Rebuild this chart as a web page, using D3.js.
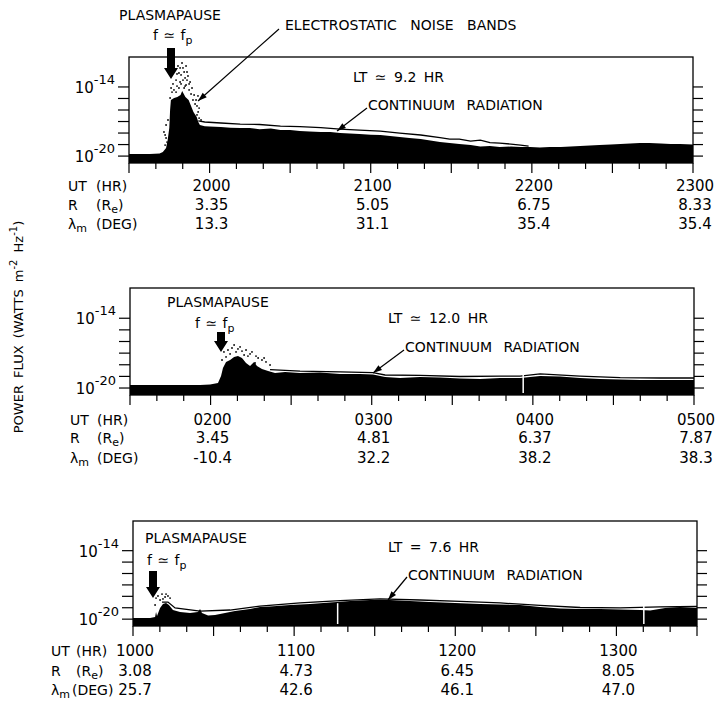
<!DOCTYPE html>
<html>
<head>
<meta charset="utf-8">
<title>Power flux</title>
<script src="https://cdn.jsdelivr.net/npm/d3@7"></script>
<style>
body { margin: 0; background: #fff; }
text { font-family: "DejaVu Sans", sans-serif; fill: #000; }
</style>
</head>
<body>
<script>
// ---- data (UT in decimal hours, flux as log10 W m^-2 Hz^-1) ----
// panel 1, LT ~ 9.2 hr
var p1UT = [19.5,19.63,19.69,19.71,19.73,19.74,19.75,19.755,19.76,19.78,19.8,19.82,19.83,19.84,19.85,19.87,19.88,19.89,19.9,19.92,19.93,19.94,19.97,20.0,20.07,20.13,20.19,20.25,20.31,20.38,20.44,20.5,20.56,20.62,20.69,20.75,20.81,20.87,20.93,21.0,21.06,21.12,21.18,21.24,21.31,21.37,21.43,21.49,21.55,21.62,21.68,21.74,21.8,21.87,21.93,21.99,22.05,22.11,22.18,22.24,22.3,22.36,22.42,22.49,22.55,22.61,22.67,22.73,22.8,22.86,22.92,23.0];
var p1Flux = [-19.82,-19.82,-19.78,-19.64,-19.3,-18.6,-17.56,-16.0,-15.13,-14.96,-14.87,-14.7,-14.35,-14.61,-14.87,-15.13,-15.48,-15.83,-16.18,-16.61,-17.05,-17.31,-17.4,-17.44,-17.48,-17.53,-17.57,-17.57,-17.66,-17.61,-17.74,-17.74,-17.83,-17.87,-17.92,-17.92,-18.0,-18.05,-18.09,-18.14,-18.17,-18.26,-18.35,-18.44,-18.52,-18.65,-18.78,-18.87,-18.96,-19.04,-19.17,-19.13,-19.22,-19.17,-19.22,-19.22,-19.26,-19.22,-19.22,-19.17,-19.13,-19.09,-19.04,-19.0,-18.96,-18.91,-18.87,-18.87,-18.91,-18.96,-18.96,-19.0];
var p1ContUT = [19.93,19.97,20.07,20.19,20.31,20.44,20.56,20.69,20.81,20.93,21.06,21.18,21.31,21.43,21.49,21.55,21.62,21.68,21.74,21.8,21.87,21.93,21.98];
var p1Cont = [-16.95,-17.04,-17.13,-17.22,-17.26,-17.4,-17.44,-17.53,-17.66,-17.74,-17.83,-18.0,-18.17,-18.39,-18.52,-18.52,-18.7,-18.61,-18.83,-18.87,-18.96,-19.04,-19.13];
var p1NoiseUT = [19.786,19.804,19.823,19.835,19.848,19.86,19.817,19.879,19.891,19.904,19.916,19.922,19.929,19.761,19.773,19.792,19.854,19.873,19.73,19.724,19.736,19.935,19.829,19.81,19.866,19.842,
  19.767,19.779,19.798,19.81,19.823,19.835,19.848,19.86,19.873,19.885,19.897,19.91,19.922,19.935,19.947,19.928,19.798,19.842,19.854,19.817,19.792,19.717,19.73,19.724,19.742,19.755];
var p1Noise = [-12.53,-12.18,-12.96,-12.35,-13.22,-12.7,-13.57,-13.57,-14.09,-14.7,-15.13,-15.65,-16.17,-14.09,-13.74,-13.4,-13.83,-14.26,-17.3,-18.17,-18.78,-16.7,-11.92,-12.79,-13.05,-14.09,
  -14.44,-14.26,-13.92,-14.09,-13.74,-13.4,-13.92,-13.4,-13.74,-14.61,-15.13,-15.48,-16.43,-15.83,-16.87,-14.78,-12.87,-12.7,-12.18,-12.35,-14.44,-17.91,-18.43,-19.04,-16.87,-14.96];
var p1Gaps = [];
var p1Hours = ["2000","2100","2200","2300"];
var p1R = ["3.35","5.05","6.75","8.33"];
var p1Lat = ["13.3","31.1","35.4","35.4"];

// panel 2, LT ~ 12.0 hr
var p2UT = [1.5,1.935,1.997,2.046,2.065,2.077,2.096,2.121,2.146,2.17,2.195,2.22,2.245,2.27,2.288,2.319,2.357,2.4,2.462,2.555,2.679,2.804,2.928,3.008,3.083,3.176,3.3,3.424,3.548,3.673,3.797,3.921,4.045,4.169,4.293,4.417,4.542,4.666,4.79,4.914,5.0];
var p2Flux = [-19.74,-19.74,-19.7,-19.57,-18.97,-18.28,-17.76,-17.59,-17.33,-17.25,-17.42,-17.85,-18.11,-17.76,-18.11,-18.36,-18.54,-18.71,-18.62,-18.71,-18.67,-18.79,-18.79,-18.84,-19.05,-19.14,-19.05,-19.1,-19.18,-19.23,-19.14,-19.14,-18.97,-19.01,-19.14,-19.23,-19.27,-19.31,-19.31,-19.31,-19.31];
var p2ContUT = [2.369,2.555,2.804,3.008,3.083,3.3,3.548,3.797,3.921,4.045,4.293,4.542,4.79,5.0];
var p2Cont = [-18.41,-18.54,-18.62,-18.67,-18.88,-18.92,-19.01,-18.97,-18.97,-18.79,-18.97,-19.1,-19.14,-19.14];
var p2NoiseUT = [2.108,2.133,2.158,2.183,2.208,2.232,2.096,2.257,2.295,2.319,2.146,2.369,2.276,
  2.083,2.121,2.17,2.195,2.22,2.245,2.282,2.332,2.344,2.071];
var p2Noise = [-16.73,-16.56,-16.9,-16.47,-17.16,-17.25,-17.33,-16.9,-17.42,-17.59,-16.3,-18.02,-17.85,
  -16.9,-17.07,-16.64,-16.82,-16.73,-17.07,-17.25,-17.42,-17.76,-17.59];
var p2Gaps = [3.94];
var p2Hours = ["0200","0300","0400","0500"];
var p2R = ["3.45","4.81","6.37","7.87"];
var p2Lat = ["-10.4","32.2","38.2","38.3"];

// panel 3, LT = 7.6 hr
var p3UT = [10.0,10.106,10.137,10.143,10.149,10.168,10.186,10.205,10.223,10.248,10.292,10.354,10.403,10.416,10.428,10.466,10.509,10.571,10.633,10.726,10.788,10.85,10.975,11.099,11.223,11.347,11.471,11.595,11.719,11.844,11.999,12.154,12.278,12.402,12.526,12.651,12.775,12.899,13.023,13.147,13.209,13.302,13.395,13.5];
var p3Flux = [-19.9,-19.9,-19.81,-19.37,-19.72,-19.02,-18.67,-18.58,-18.76,-19.2,-19.37,-19.46,-19.37,-19.11,-19.46,-19.68,-19.64,-19.46,-19.29,-19.11,-18.93,-18.89,-18.76,-18.67,-18.54,-18.41,-18.32,-18.32,-18.41,-18.5,-18.58,-18.67,-18.72,-18.76,-18.93,-19.07,-19.11,-19.11,-19.15,-19.2,-19.24,-19.02,-18.93,-19.02];
var p3ContUT = [10.18,10.217,10.261,10.416,10.602,10.788,11.037,11.285,11.533,11.781,12.03,12.278,12.526,12.775,13.023,13.271,13.5];
var p3Cont = [-18.5,-18.5,-19.02,-19.29,-19.2,-18.85,-18.58,-18.37,-18.23,-18.32,-18.45,-18.58,-18.8,-18.98,-19.02,-18.93,-18.89];
var p3NoiseUT = [10.155,10.18,10.199,10.217,10.168,10.137,10.143,10.186,10.205,10.23];
var p3Noise = [-17.97,-17.8,-18.06,-17.97,-18.32,-18.76,-18.15,-18.23,-17.8,-18.15];
var p3Gaps = [11.27,13.17];
var p3Hours = ["1000","1100","1200","1300"];
var p3R = ["3.08","4.73","6.45","8.05"];
var p3Lat = ["25.7","42.6","46.1","47.0"];

var decades = [-20,-19,-18,-17,-16,-15,-14];

// ---- layout ----
var panels = [
  {top:57, bottom:163, left:129, right:693, ut:[19.5,23], major:[20,21,22,23],
   flux:[p1UT,p1Flux], cont:[p1ContUT,p1Cont], noise:[p1NoiseUT,p1Noise], gaps:p1Gaps,
   hours:p1Hours, r:p1R, lat:p1Lat, rows:[28,47,66], lx:68, ux:96, rx:96, dx:96,
   lt:"LT \u2243 9.2 HR", ltPos:[353,82], cPos:[368,110], cArrow:[367,108,337,131],
   pp:[170,20,"middle"], fp:[153,40], arrow:[171,48,79]},
  {top:288, bottom:395, left:130, right:694, ut:[1.5,5], major:[2,3,4,5],
   flux:[p2UT,p2Flux], cont:[p2ContUT,p2Cont], noise:[p2NoiseUT,p2Noise], gaps:p2Gaps,
   hours:p2Hours, r:p2R, lat:p2Lat, rows:[30,48,68], lx:70, ux:97, rx:97, dx:97,
   lt:"LT \u2243 12.0 HR", ltPos:[388,323], cPos:[405,352], cArrow:[404,350,373,373],
   pp:[167,307,"start"], fp:[195,328], arrow:[221,332,352]},
  {top:521, bottom:626, left:133, right:697, ut:[10,13.5], major:[10,11,12,13],
   flux:[p3UT,p3Flux], cont:[p3ContUT,p3Cont], noise:[p3NoiseUT,p3Noise], gaps:p3Gaps,
   hours:p3Hours, r:p3R, lat:p3Lat, rows:[30,50,69], lx:51, ux:76, rx:76, dx:72,
   lt:"LT = 7.6 HR", ltPos:[388,552], cPos:[408,580], cArrow:[407,577,388,600],
   pp:[145,543,"start"], fp:[147,565], arrow:[153,571,598]}
];

var svg = d3.select("body").append("svg")
    .attr("width", 718)
    .attr("height", 702);

function zip(a, b){
  return a.map(function(t, i){ return {t: t, v: b[i]}; });
}

// thin pointer with a small head at (x2,y2)
function pointer(x1, y1, x2, y2){
  svg.append("line")
    .attr("x1", x1).attr("y1", y1).attr("x2", x2).attr("y2", y2)
    .attr("stroke", "#000").attr("stroke-width", 1.2);
  var a = Math.atan2(y2 - y1, x2 - x1), L = 9, w = 3;
  var bx = x2 - L * Math.cos(a), by = y2 - L * Math.sin(a);
  var px = -Math.sin(a) * w, py = Math.cos(a) * w;
  svg.append("path")
    .attr("d", "M" + x2 + "," + y2 + "L" + (bx + px) + "," + (by + py) + "L" + (bx - px) + "," + (by - py) + "Z")
    .attr("fill", "#000");
}

// fat down arrow (f ~ fp marker)
function fatArrow(x, y1, y2){
  var hw = 4, hh = 7, hl = 11;
  svg.append("path")
    .attr("d", "M" + (x - hw) + "," + y1 + "H" + (x + hw) + "V" + (y2 - hl) + "H" + (x + hh) +
      "L" + x + "," + y2 + "L" + (x - hh) + "," + (y2 - hl) + "H" + (x - hw) + "Z")
    .attr("fill", "#000");
}

panels.forEach(function(p){
  var x = d3.scaleLinear().domain(p.ut).range([p.left, p.right]);
  var y = d3.scaleLog().domain([Math.pow(10, -20.6), Math.pow(10, -11.4)]).range([p.bottom, p.top]);
  var yv = function(v){ return y(Math.pow(10, v)); };

  // spectrum fill
  var area = d3.area()
    .x(function(d){ return x(d.t); })
    .y0(p.bottom)
    .y1(function(d){ return yv(d.v); });
  svg.append("path")
    .datum(zip(p.flux[0], p.flux[1]))
    .attr("d", area)
    .attr("fill", "#000");

  // continuum radiation upper edge
  var line = d3.line()
    .x(function(d){ return x(d.t); })
    .y(function(d){ return yv(d.v); });
  svg.append("path")
    .datum(zip(p.cont[0], p.cont[1]))
    .attr("d", line)
    .attr("fill", "none")
    .attr("stroke", "#000")
    .attr("stroke-width", 1.3);

  // scattered noise points
  svg.append("g").selectAll("circle")
    .data(zip(p.noise[0], p.noise[1]))
    .enter().append("circle")
    .attr("cx", function(d){ return x(d.t); })
    .attr("cy", function(d){ return yv(d.v); })
    .attr("r", 0.9)
    .attr("fill", "#000");

  // data gaps
  svg.append("g").selectAll("line")
    .data(p.gaps)
    .enter().append("line")
    .attr("x1", function(d){ return x(d); }).attr("x2", function(d){ return x(d); })
    .attr("y1", p.bottom - 2).attr("y2", yv(-18.6))
    .attr("stroke", "#fff").attr("stroke-width", 1.5);

  // frame
  svg.append("rect")
    .attr("x", p.left).attr("y", p.top)
    .attr("width", p.right - p.left).attr("height", p.bottom - p.top)
    .attr("fill", "none").attr("stroke", "#000").attr("stroke-width", 1.3);

  // y ticks both sides
  var yt = svg.append("g");
  decades.forEach(function(e){
    yt.append("line").attr("x1", p.left - 11).attr("x2", p.left)
      .attr("y1", yv(e)).attr("y2", yv(e)).attr("stroke", "#000").attr("stroke-width", 1.2);
    yt.append("line").attr("x1", p.right).attr("x2", p.right + 10)
      .attr("y1", yv(e)).attr("y2", yv(e)).attr("stroke", "#000").attr("stroke-width", 1.2);
  });
  [-14, -20].forEach(function(e){
    var t = svg.append("text")
      .attr("x", p.left - 14).attr("y", yv(e) + 6)
      .attr("text-anchor", "end")
      .style("font-size", "15px");
    t.append("tspan").text("10");
    t.append("tspan").attr("dy", -9).style("font-size", "13px").text(String(e));
  });

  // x ticks every 10 min, longer on the half hour
  var xt = d3.range(0, Math.round((p.ut[1] - p.ut[0]) * 6) + 1).map(function(i){ return p.ut[0] + i / 6; });
  svg.append("g").selectAll("line")
    .data(xt)
    .enter().append("line")
    .attr("x1", function(d){ return x(d); }).attr("x2", function(d){ return x(d); })
    .attr("y1", p.bottom)
    .attr("y2", function(d){ return Math.abs(d * 2 - Math.round(d * 2)) < 1e-6 ? p.bottom + 10 : p.bottom + 6; })
    .attr("stroke", "#000").attr("stroke-width", 1.2);

  // ephemeris rows
  var rowVals = [p.hours, p.r, p.lat];
  rowVals.forEach(function(vals, k){
    svg.append("g").selectAll("text")
      .data(vals)
      .enter().append("text")
      .attr("x", function(d, i){ return x(p.major[i]) + 2; })
      .attr("y", p.bottom + p.rows[k])
      .attr("text-anchor", "middle")
      .style("font-size", "15px")
      .text(function(d){ return d; });
  });
  var by = p.bottom, fs = "14px";
  svg.append("text").attr("x", p.lx).attr("y", by + p.rows[0]).style("font-size", fs).text("UT");
  svg.append("text").attr("x", p.ux).attr("y", by + p.rows[0]).style("font-size", fs).text("(HR)");
  svg.append("text").attr("x", p.lx).attr("y", by + p.rows[1]).style("font-size", fs).text("R");
  var re = svg.append("text").attr("x", p.rx).attr("y", by + p.rows[1]).style("font-size", fs);
  re.append("tspan").text("(R");
  re.append("tspan").attr("dy", 3).style("font-size", "11px").text("e");
  re.append("tspan").attr("dy", -3).text(")");
  var lm = svg.append("text").attr("x", p.lx).attr("y", by + p.rows[2]).style("font-size", fs);
  lm.append("tspan").text("\u03bb");
  lm.append("tspan").attr("dy", 3).style("font-size", "11px").text("m");
  svg.append("text").attr("x", p.dx).attr("y", by + p.rows[2]).style("font-size", fs).text("(DEG)");

  // annotations
  svg.append("text").attr("x", p.pp[0]).attr("y", p.pp[1]).attr("text-anchor", p.pp[2])
    .style("font-size", "14px").text("PLASMAPAUSE");
  var fp = svg.append("text").attr("x", p.fp[0]).attr("y", p.fp[1])
    .style("font-size", "14px").style("word-spacing", "1px");
  fp.append("tspan").text("f \u2243 f");
  fp.append("tspan").attr("dy", 4).style("font-size", "11px").text("p");
  fatArrow(p.arrow[0], p.arrow[1], p.arrow[2]);

  svg.append("text").attr("x", p.ltPos[0]).attr("y", p.ltPos[1])
    .style("font-size", "14px").style("word-spacing", "3px").text(p.lt);
  svg.append("text").attr("x", p.cPos[0]).attr("y", p.cPos[1])
    .style("font-size", "14px").style("word-spacing", "7px").text("CONTINUUM RADIATION");
  pointer(p.cArrow[0], p.cArrow[1], p.cArrow[2], p.cArrow[3]);
});

// top panel only
svg.append("text").attr("x", 285).attr("y", 30)
  .style("font-size", "14px").style("word-spacing", "9px").text("ELECTROSTATIC NOISE BANDS");
pointer(279, 29, 198, 101);

// y axis title
var yl = svg.append("text")
  .attr("transform", "translate(23,327) rotate(-90)")
  .attr("text-anchor", "middle")
  .style("font-size", "13px")
  .style("word-spacing", "3px");
yl.append("tspan").text("POWER FLUX (WATTS m");
yl.append("tspan").attr("dy", -6).style("font-size", "10px").text("-2");
yl.append("tspan").attr("dy", 6).text(" Hz");
yl.append("tspan").attr("dy", -6).style("font-size", "10px").text("-1");
yl.append("tspan").attr("dy", 6).text(")");
</script>
</body>
</html>
